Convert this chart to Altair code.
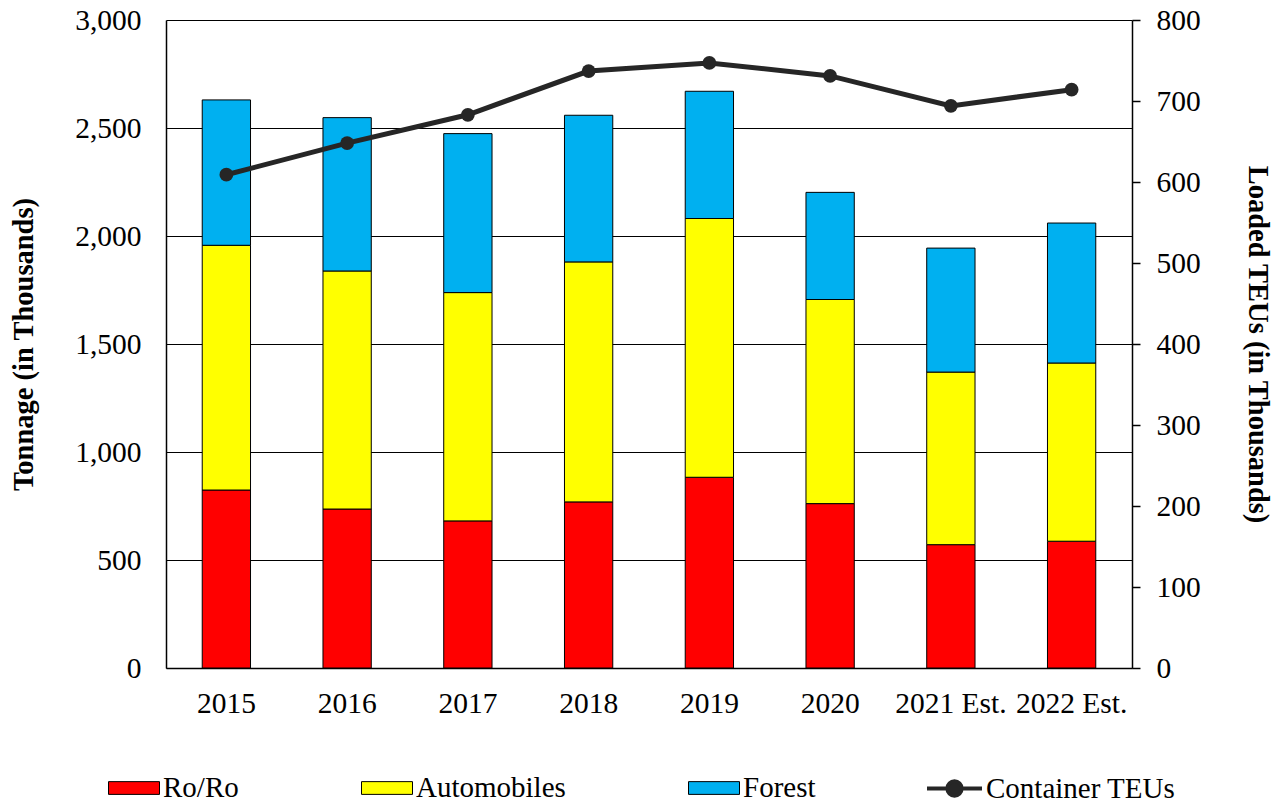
import altair as alt
import pandas as pd

# Tonnage and container volumes by year (thousands)
years = ["2015", "2016", "2017", "2018", "2019", "2020", "2021 Est.", "2022 Est."]
roro = [824, 736, 681, 769, 883, 761, 571, 587]
automobiles = [1133, 1102, 1057, 1111, 1198, 945, 799, 825]
forest = [673, 710, 736, 679, 589, 496, 574, 648]
container_teus = [609, 648, 683, 737, 747, 731, 694, 714]

cargo_names = ["Ro/Ro", "Automobiles", "Forest"]
cargo_colors = ["#FF0000", "#FFFF00", "#00B0F0"]
line_color = "#262626"
font = "Liberation Serif"
label_size = 29.5
legend_size = 29

rows = []
for i, y in enumerate(years):
    for k, (name, vals) in enumerate(zip(cargo_names, [roro, automobiles, forest])):
        rows.append({"year": y, "cargo": name, "tons": vals[i], "stack_order": k})
bars_df = pd.DataFrame(rows)

teu_df = pd.DataFrame({"year": years, "teus": container_teus,
                       "series": ["Container TEUs"] * len(years)})

x_enc = alt.X("year:N", sort=years, title=None,
              scale=alt.Scale(paddingInner=0.6, paddingOuter=0.3),
              axis=alt.Axis(labelAngle=0, ticks=False, labelPadding=21,
                            domainColor="black", domainWidth=1.5))

rect_symbol = "M-1,-0.25H1V0.25H-1Z"
line_symbol = ("M-1,0H1M-0.26,0A0.26,0.26 0 1,1 0.26,0"
               "A0.26,0.26 0 1,1 -0.26,0Z")

bars = alt.Chart(bars_df).mark_bar(stroke="black", strokeWidth=1).encode(
    x=x_enc,
    y=alt.Y("tons:Q", stack="zero",
            scale=alt.Scale(domain=[0, 3000], nice=False),
            axis=alt.Axis(title="Tonnage (in Thousands)", format=",.0f",
                          values=[0, 500, 1000, 1500, 2000, 2500, 3000],
                          ticks=False, labelPadding=25, titlePadding=36,
                          grid=True, gridColor="black", gridWidth=1.2,
                          domainColor="black", domainWidth=1.5)),
    fill=alt.Fill("cargo:N",
                  scale=alt.Scale(domain=cargo_names, range=cargo_colors),
                  legend=alt.Legend(title=None, orient="none", direction="horizontal",
                                    columns=3, columnPadding=120,
                                    legendX=-58, legendY=742,
                                    symbolType=rect_symbol, symbolSize=2601,
                                    symbolStrokeColor="black", symbolStrokeWidth=1,
                                    symbolOpacity=1, labelOffset=3,
                                    labelFontSize=legend_size, labelFont=font,
                                    labelColor="black", labelLimit=400)),
    order=alt.Order("stack_order:Q", sort="ascending"),
)

teu_axis = alt.Axis(title="Loaded TEUs (in Thousands)", orient="right",
                    values=[0, 100, 200, 300, 400, 500, 600, 700, 800],
                    grid=False, ticks=True, tickSize=8, tickColor="black",
                    tickWidth=1.5, labelPadding=16, titlePadding=42,
                    domainColor="black", domainWidth=1.5)
teu_scale = alt.Scale(domain=[0, 800], nice=False)

line = alt.Chart(teu_df).mark_line(strokeWidth=5).encode(
    x=alt.X("year:N", sort=years),
    y=alt.Y("teus:Q", scale=teu_scale, axis=teu_axis),
    stroke=alt.Stroke("series:N",
                      scale=alt.Scale(domain=["Container TEUs"], range=[line_color]),
                      legend=alt.Legend(title=None, orient="none",
                                        legendX=759, legendY=739,
                                        symbolType=line_symbol, symbolSize=3025,
                                        symbolStrokeWidth=4, labelOffset=2,
                                        symbolFillColor=line_color,
                                        labelFontSize=legend_size, labelFont=font,
                                        labelColor="black", labelLimit=400)),
)

points = alt.Chart(teu_df).mark_circle(size=190, opacity=1, color=line_color).encode(
    x=alt.X("year:N", sort=years),
    y=alt.Y("teus:Q", scale=teu_scale, axis=teu_axis),
)

chart = alt.layer(bars, line + points).resolve_scale(
    y="independent", fill="independent", stroke="independent"
).properties(
    width=966, height=648,
    padding={"left": 166, "top": 20, "right": 150, "bottom": 135},
    autosize=alt.AutoSizeParams(type="none"),
).configure_view(stroke=None).configure_axis(
    labelFont=font, labelFontSize=label_size, labelColor="black",
    titleFont=font, titleFontSize=28.5, titleFontWeight="bold", titleColor="black",
).configure_legend(labelFont=font, labelFontSize=legend_size)

chart.save("out.html", embed_options={"renderer": "svg", "actions": False})
